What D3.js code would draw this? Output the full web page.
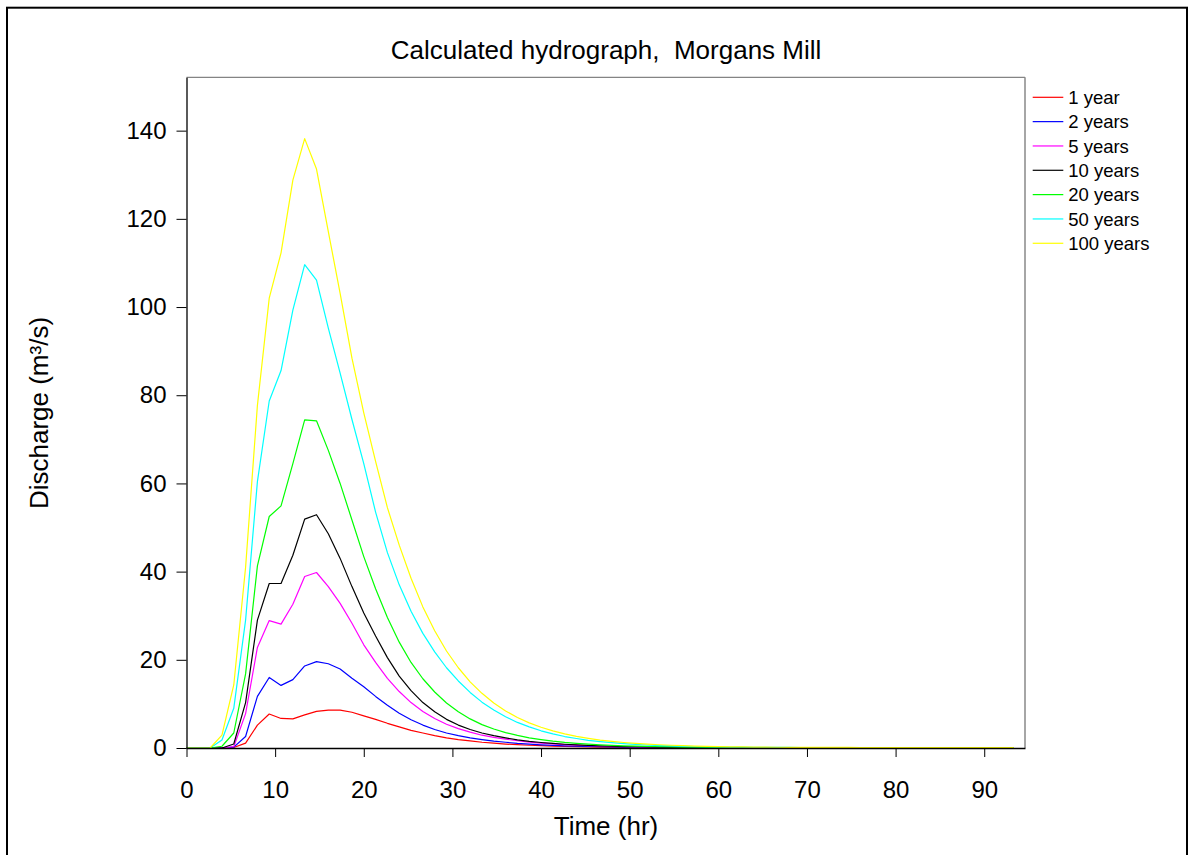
<!DOCTYPE html>
<html>
<head>
<meta charset="utf-8">
<script src="https://cdn.jsdelivr.net/npm/d3@7"></script>
<style>
  html, body { margin: 0; padding: 0; background: #fff; }
  svg { display: block; font-family: "Liberation Sans", Arial, sans-serif; }
  .pre { white-space: pre; }
</style>
</head>
<body>
<svg id="chart" width="1194" height="855"></svg>
<script>
const title = "Calculated hydrograph,  Morgans Mill";
const xLabel = "Time (hr)";
const yLabel = "Discharge (m³/s)";
const xTicks = [0, 10, 20, 30, 40, 50, 60, 70, 80, 90];
const yTicks = [0, 20, 40, 60, 80, 100, 120, 140];
const seriesNames = ["1 year", "2 years", "5 years", "10 years", "20 years", "50 years", "100 years"];
const seriesColors = ["#ff0000", "#0000ff", "#ff00ff", "#000000", "#00ff00", "#00ffff", "#ffff00"];

const time = [0,1.333,2.667,4,5.333,6.667,8,9.333,10.667,12,13.333,14.667,16,17.333,18.667,20,21.333,22.667,24,25.333,26.667,28,29.333,30.667,32,33.333,34.667,36,37.333,38.667,40,41.333,42.667,44,45.333,46.667,48,49.333,50.667,52,53.333,54.667,56,57.333,58.667,60,61.333,62.667,64,65.333,66.667,68,69.333,70.667,72,73.333,74.667,76,77.333,78.667,80,81.333,82.667,84,85.333,86.667,88,89.333,90.667,92,93.333];

const q1 = [0,0,0,0,0.1,1.1,5.2,7.7,6.7,6.6,
  7.5,8.3,8.6,8.6,8.1,7.3,6.5,5.6,4.8,4.0,
  3.4,2.8,2.3,1.9,1.6,1.3,1.1,0.9,0.75,0.62,
  0.52,0.44,0.37,0.31,0.26,0.22,0.19,0.16,0.13,0.11,
  0.1,0.08,0.07,0.06,0.05,0.04,0.04,0.03,0.03,0.03,
  0.02,0.02,0.02,0.02,0.02,0.02,0.02,0.02,0.02,0.02,
  0.02,0.02,0.01,0.01,0.01,0.01,0.01,0.01,0.01,0.01,0.01];
const q2 = [0,0,0,0,0.2,2.6,11.7,16.0,14.2,15.5,
  18.6,19.6,19.1,17.9,15.8,13.9,11.7,9.7,7.9,6.4,
  5.2,4.2,3.4,2.8,2.3,1.9,1.55,1.3,1.05,0.87,
  0.72,0.6,0.5,0.42,0.35,0.29,0.24,0.2,0.17,0.14,
  0.12,0.1,0.09,0.08,0.07,0.06,0.05,0.05,0.04,0.04,
  0.04,0.03,0.03,0.03,0.03,0.02,0.02,0.02,0.02,0.02,
  0.02,0.02,0.02,0.02,0.01,0.01,0.01,0.01,0.01,0.01,0.01];
const q5 = [0,0,0,0,0.3,7.8,22.8,28.9,28.1,32.6,
  38.9,39.8,36.6,32.8,28.3,23.4,19.4,15.8,12.8,10.3,
  8.3,6.7,5.4,4.4,3.6,2.9,2.4,2.0,1.65,1.35,
  1.1,0.92,0.76,0.63,0.52,0.43,0.36,0.3,0.25,0.21,
  0.18,0.15,0.13,0.11,0.1,0.09,0.08,0.07,0.06,0.06,
  0.05,0.05,0.04,0.04,0.04,0.04,0.03,0.03,0.03,0.03,
  0.03,0.03,0.02,0.02,0.02,0.02,0.02,0.02,0.02,0.02,0.02];
const q10 = [0,0,0,0,0.9,10.3,29.0,37.3,37.3,43.7,
  51.9,52.9,48.6,43.0,36.6,30.6,25.4,20.5,16.3,13.0,
  10.3,8.2,6.5,5.2,4.2,3.4,2.8,2.3,1.85,1.5,
  1.25,1.03,0.85,0.7,0.58,0.48,0.4,0.33,0.28,0.23,
  0.19,0.16,0.14,0.12,0.1,0.09,0.08,0.07,0.06,0.06,
  0.05,0.05,0.05,0.04,0.04,0.04,0.04,0.03,0.03,0.03,
  0.03,0.03,0.03,0.03,0.02,0.02,0.02,0.02,0.02,0.02,0.02];
const q20 = [0,0,0,0.4,3.4,16.8,41.3,52.5,54.9,64.5,
  74.4,74.2,67.5,60.0,51.7,43.4,36.1,29.6,24.0,19.4,
  15.7,12.7,10.2,8.2,6.6,5.3,4.3,3.5,2.85,2.3,
  1.9,1.55,1.27,1.05,0.87,0.72,0.6,0.5,0.42,0.35,
  0.3,0.25,0.21,0.18,0.15,0.13,0.11,0.1,0.09,0.08,
  0.07,0.07,0.06,0.06,0.06,0.05,0.05,0.05,0.05,0.04,
  0.04,0.04,0.04,0.04,0.03,0.03,0.03,0.03,0.03,0.03,0.03];
const q50 = [0,0,0,1.8,9.0,29.0,60.4,78.7,85.6,99.3,
  109.6,106.1,95.2,85.0,74.5,64.5,53.5,44.3,37.0,31.0,
  26.0,21.8,18.2,15.2,12.6,10.4,8.6,7.1,5.8,4.8,
  3.9,3.2,2.6,2.15,1.75,1.45,1.2,1.0,0.82,0.68,
  0.56,0.47,0.39,0.33,0.28,0.24,0.21,0.18,0.16,0.14,
  0.13,0.12,0.11,0.1,0.1,0.09,0.09,0.08,0.08,0.08,
  0.07,0.07,0.07,0.06,0.06,0.06,0.06,0.05,0.05,0.05,0.05];
const q100 = [0,0,0,2.9,14.3,41.0,77.7,102.0,112.3,128.8,
  138.2,131.3,117.1,103.1,88.4,76.0,65.0,54.5,46.0,38.5,
  32.0,26.6,22.0,18.2,15.0,12.4,10.2,8.4,6.9,5.7,
  4.7,3.9,3.2,2.65,2.2,1.8,1.5,1.25,1.05,0.88,
  0.74,0.62,0.52,0.44,0.37,0.31,0.27,0.24,0.21,0.19,
  0.17,0.16,0.15,0.14,0.13,0.12,0.12,0.11,0.11,0.1,
  0.1,0.1,0.09,0.09,0.09,0.08,0.08,0.08,0.07,0.07,0.07];

const seriesValues = [q1, q2, q5, q10, q20, q50, q100];

const svg = d3.select("#chart");
const x = d3.scaleLinear().domain([0, 94.6]).range([186.5, 1025]);
const y = d3.scaleLinear().domain([0, 152.1]).range([748, 77.3]);

// outer frame
svg.append("rect").attr("x", 7).attr("y", 7.7).attr("width", 1180).attr("height", 870)
  .attr("fill", "none").attr("stroke", "#000").attr("stroke-width", 2);

// plot frame (top and right, grey)
svg.append("line").attr("x1", x(0)).attr("x2", x(94.6)).attr("y1", y(152.1)).attr("y2", y(152.1))
  .attr("stroke", "#666").attr("stroke-width", 1);
svg.append("line").attr("x1", x(94.6)).attr("x2", x(94.6)).attr("y1", y(152.1)).attr("y2", y(0))
  .attr("stroke", "#888").attr("stroke-width", 1.5);

// lines
const line = d3.line().x((d, i) => x(time[i])).y(d => y(d));
seriesValues.forEach((vals, k) => {
  svg.append("path").datum(vals)
    .attr("d", line)
    .attr("fill", "none")
    .attr("stroke", seriesColors[k])
    .attr("stroke-width", 1.2)
    .attr("stroke-linejoin", "round");
});

// axes
const xAxis = svg.append("g").attr("transform", `translate(0,${y(0)})`)
  .call(d3.axisBottom(x).tickValues(xTicks).tickFormat(d3.format("d")).tickSize(9).tickSizeOuter(0).tickPadding(24));
const yAxis = svg.append("g").attr("transform", `translate(${x(0)},0)`)
  .call(d3.axisLeft(y).tickValues(yTicks).tickFormat(d3.format("d")).tickSize(10).tickSizeOuter(0).tickPadding(10));
[xAxis, yAxis].forEach(g => {
  g.selectAll("text").attr("font-size", 24).attr("fill", "#000")
    .attr("font-family", "'Liberation Sans', Arial, sans-serif");
  g.selectAll("line").attr("stroke", "#000");
  g.select(".domain").attr("stroke", "#000").attr("stroke-width", 1.3);
});

// title and axis labels
svg.append("text").attr("class", "pre").attr("xml:space", "preserve")
  .attr("x", 606).attr("y", 59).attr("text-anchor", "middle")
  .attr("font-size", 26).attr("fill", "#000").text(title);
svg.append("text").attr("x", 606).attr("y", 835).attr("text-anchor", "middle")
  .attr("font-size", 26).attr("fill", "#000").text(xLabel);
svg.append("text").attr("transform", "translate(48,413) rotate(-90)").attr("text-anchor", "middle")
  .attr("font-size", 26).attr("fill", "#000").text(yLabel);

// legend
const legend = svg.append("g").attr("transform", "translate(1032.7,97.3)");
seriesNames.forEach((name, k) => {
  const g = legend.append("g").attr("transform", `translate(0,${k * 24.33})`);
  g.append("line").attr("x1", 0).attr("x2", 30.6).attr("y1", 0).attr("y2", 0)
    .attr("stroke", seriesColors[k]).attr("stroke-width", 1.2);
  g.append("text").attr("x", 35.5).attr("y", 0).attr("dy", "0.36em")
    .attr("font-size", 18.5).attr("fill", "#000").text(name);
});
</script>
</body>
</html>
